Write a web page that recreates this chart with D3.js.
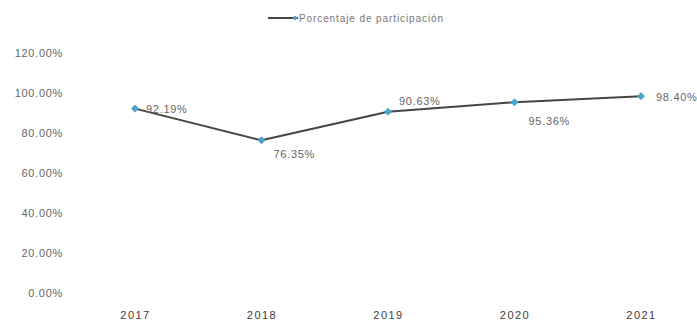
<!DOCTYPE html>
<html>
<head>
<meta charset="utf-8">
<script src="https://cdn.jsdelivr.net/npm/d3@7"></script>
<style>
  html, body { margin: 0; padding: 0; background: #ffffff; }
  svg { display: block; font-family: "Liberation Sans", Arial, sans-serif; }
</style>
</head>
<body>
<svg id="chart" width="697" height="324"></svg>
<script>
// Participation rate by year
const years = ["2017", "2018", "2019", "2020", "2021"];
const participation = [0.9219, 0.7635, 0.9063, 0.9536, 0.9840];
const yTicks = [0, 0.2, 0.4, 0.6, 0.8, 1.0, 1.2];
const seriesName = "Porcentaje de participación";
// label placement per point: [dx, dy]
const labelOffsets = [[11, 4], [12, 18], [11, -7], [14, 23], [15, 5]];

const svg = d3.select("#chart");
const lineColor = "#454545";
const markerColor = "#4ba6cf";
const textColor = "#666666";

const x = d3.scalePoint().domain(years).range([135, 641]);
const y = d3.scaleLinear().domain([0, 1.2]).range([293, 53]);

const data = years.map((yr, i) => ({ year: yr, value: participation[i] }));
const fmt = v => (v * 100).toFixed(2) + "%";

// Y axis labels (no line, no ticks)
const yAxis = svg.append("g")
  .attr("transform", "translate(63,0)")
  .call(d3.axisLeft(y).tickValues(yTicks).tickSize(0).tickPadding(0).tickFormat(fmt));
yAxis.select(".domain").remove();
yAxis.selectAll("text")
  .attr("fill", textColor)
  .style("font-size", "11px")
  .style("letter-spacing", "0.7px")
  .style("font-family", "'Liberation Sans', Arial, sans-serif");

// X axis labels
const xAxis = svg.append("g")
  .attr("transform", "translate(0,311)")
  .call(d3.axisBottom(x).tickSize(0).tickPadding(0));
xAxis.select(".domain").remove();
xAxis.selectAll("text")
  .attr("fill", "#404040")
  .style("font-size", "11px")
  .style("letter-spacing", "1.5px")
  .style("font-family", "'Liberation Sans', Arial, sans-serif");

// Line
const line = d3.line().x(d => x(d.year)).y(d => y(d.value));
svg.append("path")
  .datum(data)
  .attr("d", line)
  .attr("fill", "none")
  .attr("stroke", lineColor)
  .attr("stroke-width", 2)
  .attr("stroke-linejoin", "round");

// Diamond markers (squares turned 45 degrees)
const diamond = d3.symbol().type(d3.symbolSquare).size(26);
svg.append("g").selectAll("path")
  .data(data)
  .join("path")
  .attr("d", diamond)
  .attr("transform", d => `translate(${x(d.year)},${y(d.value)}) rotate(45)`)
  .attr("fill", markerColor)
  .attr("stroke", "#4199c2")
  .attr("stroke-width", 0.6);

// Data labels
svg.append("g").selectAll("text")
  .data(data)
  .join("text")
  .attr("x", (d, i) => x(d.year) + labelOffsets[i][0])
  .attr("y", (d, i) => y(d.value) + labelOffsets[i][1])
  .attr("fill", textColor)
  .style("font-size", "11px")
  .style("letter-spacing", "0.7px")
  .text(d => fmt(d.value));

// Legend
const legend = svg.append("g").attr("transform", "translate(268,18)");
legend.append("line")
  .attr("x1", 0).attr("x2", 30).attr("y1", 0).attr("y2", 0)
  .attr("stroke", lineColor).attr("stroke-width", 2);
legend.append("path")
  .attr("d", d3.symbol().type(d3.symbolSquare).size(12))
  .attr("transform", "translate(27,0) rotate(45)")
  .attr("fill", markerColor);
legend.append("text")
  .attr("x", 31).attr("y", 4)
  .attr("fill", "#777777")
  .style("font-size", "10px")
  .style("letter-spacing", "0.9px")
  .text(seriesName);
</script>
</body>
</html>
